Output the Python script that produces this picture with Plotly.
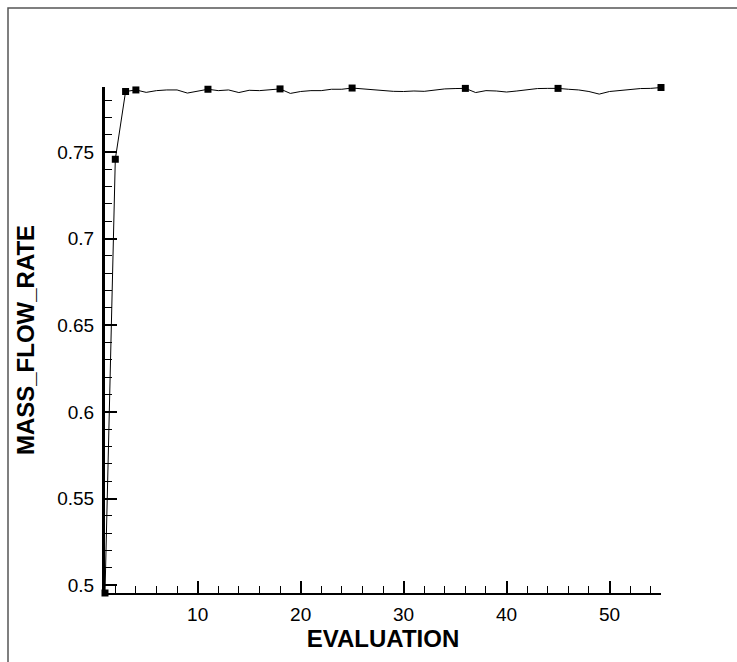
import plotly.graph_objects as go

evaluation = list(range(1, 56))
mass_flow_rate = [
    0.4955, 0.7458, 0.7849, 0.7858, 0.7844, 0.7854, 0.7858, 0.7858, 0.7840, 0.7849,
    0.7862, 0.7854, 0.7858, 0.7843, 0.7856, 0.7854, 0.7858, 0.7864, 0.7838, 0.7849,
    0.7854, 0.7854, 0.7862, 0.7862, 0.7869, 0.7864, 0.7862, 0.7854, 0.7850, 0.7849,
    0.7852, 0.7850, 0.7858, 0.7864, 0.7866, 0.7867, 0.7843, 0.7854, 0.7852, 0.7846,
    0.7852, 0.7858, 0.7866, 0.7867, 0.7867, 0.7862, 0.7858, 0.7849, 0.7834, 0.7849,
    0.7856, 0.7862, 0.7866, 0.7867, 0.7872,
]
marker_evals = [1, 2, 3, 4, 11, 18, 25, 36, 45, 55]
marker_vals = [mass_flow_rate[evaluation.index(e)] for e in marker_evals]

x_ticks = [10, 20, 30, 40, 50]
y_ticks = [0.5, 0.55, 0.6, 0.65, 0.7, 0.75]
y_tick_text = ["0.5", "0.55", "0.6", "0.65", "0.7", "0.75"]

FONT = "Liberation Sans, Arial, Helvetica, sans-serif"

fig = go.Figure()
fig.add_trace(go.Scatter(
    x=evaluation, y=mass_flow_rate, mode="lines",
    line=dict(color="black", width=1), showlegend=False, cliponaxis=False,
))
fig.add_trace(go.Scatter(
    x=marker_evals, y=marker_vals, mode="markers",
    marker=dict(symbol="square", size=7, color="black"),
    showlegend=False, cliponaxis=False,
))

W, H = 737, 662
L, R, T, B = 105, 76, 87, 69
pw, ph = W - L - R, H - T - B

# outer frame (top-left corner visible, rest beyond the page)
fx0 = (8 - L) / pw
fy1 = (H - B - 8) / ph
fig.add_shape(type="path", xref="paper", yref="paper",
              path=f"M {fx0},-1 L {fx0},{fy1} L 2,{fy1}",
              line=dict(color="#555555", width=1.5))

fig.update_layout(
    width=W, height=H,
    margin=dict(l=L, r=R, t=T, b=B),
    paper_bgcolor="white", plot_bgcolor="white",
    font=dict(family=FONT, color="black", size=19),
    xaxis=dict(
        range=[1, 55], tickvals=x_ticks, ticks="inside", ticklen=12, tickwidth=2,
        tickcolor="black", showline=True, linecolor="black", linewidth=2,
        showgrid=False, zeroline=False, tickfont=dict(size=19),
        ticklabelstandoff=3,
        minor=dict(dtick=2, tick0=0, ticks="inside", ticklen=7, tickwidth=1,
                   tickcolor="black", showgrid=False),
        title=dict(text="EVALUATION", font=dict(size=24, weight="bold"), standoff=0),
    ),
    yaxis=dict(
        range=[0.4955, 0.7875], tickvals=y_ticks, ticktext=y_tick_text,
        ticks="inside", ticklen=12, tickwidth=2,
        tickcolor="black", showline=True, linecolor="black", linewidth=3,
        showgrid=False, zeroline=False, tickfont=dict(size=19),
        ticklabelstandoff=4,
        minor=dict(dtick=0.01, tick0=0, ticks="inside", ticklen=7, tickwidth=1,
                   tickcolor="black", showgrid=False),
        title=dict(text="MASS_FLOW_RATE", font=dict(size=24, weight="bold"), standoff=16),
    ),
)

fig.write_html("out.html")
